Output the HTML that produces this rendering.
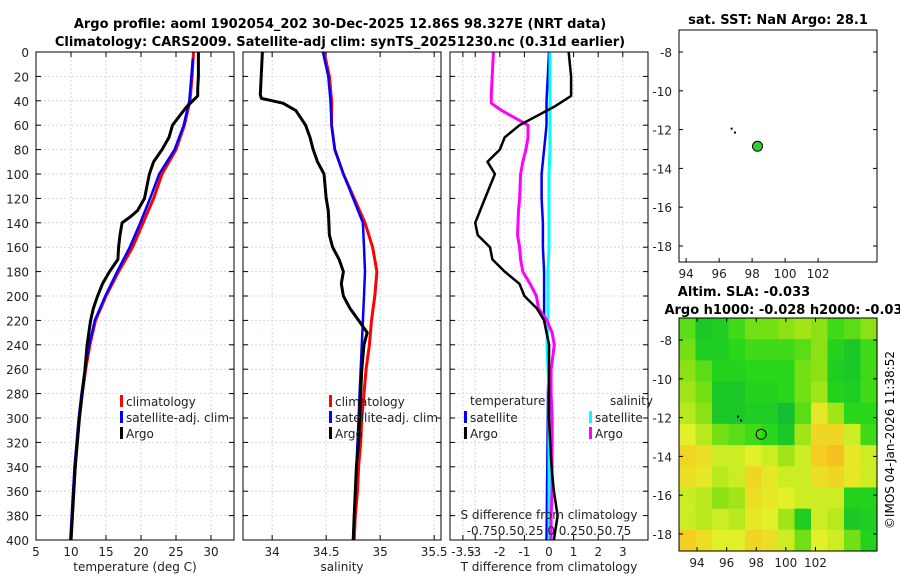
<!DOCTYPE html>
<html><head><meta charset="utf-8"><style>
html,body{margin:0;padding:0;background:#fff}
svg{display:block;font-family:"DejaVu Sans","Liberation Sans",sans-serif}
</style></head><body>
<svg id="c" width="900" height="580" viewBox="0 0 900 580">
<text x="340" y="28" font-size="13" font-weight="bold" text-anchor="middle">Argo profile: aoml 1902054_202 30-Dec-2025 12.86S 98.327E (NRT data)</text>
<text x="340" y="46" font-size="13" font-weight="bold" text-anchor="middle">Climatology: CARS2009. Satellite-adj clim: synTS_20251230.nc (0.31d earlier)</text>
<text x="778" y="24" font-size="13" font-weight="bold" text-anchor="middle">sat. SST: NaN Argo: 28.1</text>
<text x="744" y="296" font-size="13" font-weight="bold" text-anchor="middle">Altim. SLA: -0.033</text>
<text x="788" y="314" font-size="13" font-weight="bold" text-anchor="middle">Argo h1000: -0.028 h2000: -0.034</text>
<text transform="translate(894,440) rotate(-90)" font-size="12" text-anchor="middle">©IMOS 04-Jan-2026 11:38:52</text>
</svg>
<script>
// ---- data ----
const depths = [0,10,20,30,36,45,60,70,80,90,100,120,130,135,140,150,160,170,180,190,200,210,220,240,260,280,300,320,340,360,380,400];
const tempArgo = [28.2,28.2,28.2,28.1,28.1,26.5,24.5,24.0,23.0,21.8,21.2,20.5,19.5,18.5,17.3,17.0,16.8,16.7,15.5,14.5,13.8,13.2,12.8,12.3,12.0,11.6,11.2,10.9,10.6,10.4,10.2,10.0];
const climDepths = [0,20,40,60,80,100,120,140,160,180,200,220,240,260,280,300,320,340,360,380,400];
const tempClim = [27.5,27.3,27.0,26.2,25.0,23.0,21.8,20.3,18.8,16.8,15.0,13.5,12.7,12.1,11.6,11.2,10.9,10.6,10.4,10.2,10.0];
const tempSat = [27.4,27.2,26.9,26.1,24.8,22.6,21.3,19.9,18.4,16.6,14.9,13.4,12.6,12.0,11.5,11.1,10.8,10.5,10.3,10.1,9.9];
const salDepths = [0,35,38,42,48,60,70,80,90,100,120,130,150,160,170,180,190,200,210,220,230,240,260,280,300,320,340,360,380,400];
const salArgo = [33.91,33.89,33.9,34.1,34.22,34.31,34.35,34.38,34.42,34.48,34.5,34.52,34.53,34.56,34.62,34.66,34.64,34.66,34.72,34.8,34.88,34.85,34.83,34.82,34.81,34.8,34.78,34.77,34.76,34.75];
const salClim = [34.48,34.53,34.55,34.55,34.58,34.66,34.76,34.86,34.93,34.97,34.95,34.92,34.9,34.87,34.85,34.83,34.82,34.8,34.79,34.77,34.76];
const salSat = [34.47,34.52,34.54,34.55,34.58,34.66,34.75,34.84,34.85,34.86,34.85,34.84,34.83,34.82,34.81,34.8,34.79,34.78,34.77,34.76,34.75];
const tDiffArgo = [0.8,0.85,0.9,0.9,0.9,0.2,-1.2,-1.8,-2.0,-2.5,-2.2,-2.6,-2.8,-2.9,-3.0,-2.9,-2.4,-2.3,-1.8,-1.2,-1.0,-0.5,-0.2,0,0,0,0,0.05,0.1,0.2,0.35,0.2];
const tDiffSat = [0,-0.05,-0.1,-0.1,-0.2,-0.3,-0.3,-0.25,-0.25,-0.2,-0.2,-0.2,0,-0.02,-0.04,-0.05,-0.06,-0.07,-0.08,-0.09,-0.1];
const sDiffArgo = [-0.53,-0.55,-0.55,-0.55,-0.45,-0.2,-0.2,-0.22,-0.25,-0.27,-0.28,-0.29,-0.3,-0.28,-0.27,-0.25,-0.18,-0.12,-0.1,-0.02,0.03,0.05,0.02,0.02,0.03,0.03,0.03,0.03,0.02,0.02];
const sDiffSat = [0.01,0.01,0.01,0.01,0.01,0,0,0,0,-0.01,-0.01,-0.01,-0.02,-0.01,0,0,0,0,0,0,0];
const depthTicks = [0,20,40,60,80,100,120,140,160,180,200,220,240,260,280,300,320,340,360,380,400];
const tempTicks = [5,10,15,20,25,30];
const salTicks = [34,34.5,35,35.5];
const tDiffTicks = [-3.5,-3,-2,-1,0,1,2,3];
const sDiffLabel = "-0.750.50.25 0 0.250.50.75";
const lonTicks = [94,96,98,100,102];
const latTicks = [-8,-10,-12,-14,-16,-18];
const argoPos = [98.33,-12.86];
const trackLon = [96.7,96.9];
const trackLat = [-11.9,-12.1];
// SLA anomaly field (0 = strong negative/green, 1 = positive/orange), rows north->south
const slaGrid = [
[0.35,0.1,0.15,0.3,0.4,0.4,0.45,0.5,0.45,0.3,0.35,0.45],
[0.4,0.15,0.15,0.25,0.3,0.3,0.3,0.35,0.45,0.2,0.1,0.3],
[0.45,0.35,0.2,0.2,0.25,0.25,0.25,0.4,0.45,0.15,0.1,0.3],
[0.5,0.4,0.1,0.1,0.2,0.2,0.25,0.4,0.5,0.2,0.15,0.3],
[0.55,0.45,0.1,0.1,0.15,0.15,0.0,0.35,0.7,0.5,0.25,0.25],
[0.65,0.55,0.4,0.35,0.3,0.25,0.1,0.5,0.8,0.8,0.6,0.3],
[0.8,0.75,0.6,0.6,0.65,0.6,0.5,0.6,0.85,0.9,0.7,0.6],
[0.75,0.7,0.55,0.6,0.8,0.7,0.6,0.6,0.75,0.8,0.7,0.6],
[0.6,0.55,0.45,0.5,0.75,0.7,0.65,0.6,0.6,0.6,0.2,0.2],
[0.6,0.55,0.6,0.55,0.7,0.65,0.5,0.15,0.6,0.55,0.1,0.15],
[0.85,0.75,0.65,0.65,0.8,0.75,0.6,0.4,0.65,0.6,0.4,0.2]];

const NS="http://www.w3.org/2000/svg", svg=document.getElementById('c');
function mk(tag,attrs,parent){const e=document.createElementNS(NS,tag);for(const k in attrs)e.setAttribute(k,attrs[k]);(parent||svg).appendChild(e);return e;}
function txt(x,y,s,size,anchor,name){const t=mk('text',{x:x,y:y,'font-size':size,'text-anchor':anchor||'middle',fill:'#222'});t.textContent=s;


return t;}

const Y0=52,Y1=540;
const yD=d=>Y0+(d/400)*(Y1-Y0);
function panel(x0,x1,xs,xticks,fmt,xlabel,pname){
  const g=mk('g',{});
  
  
  mk('rect',{x:x0,y:Y0,width:x1-x0,height:Y1-Y0,fill:'#fff'},g);
  depthTicks.forEach(d=>{mk('line',{x1:x0,x2:x1,y1:yD(d),y2:yD(d),stroke:'#c8d0ee','stroke-dasharray':'2,2','stroke-width':0.8},g);
    mk('line',{x1:x0,x2:x0+5,y1:yD(d),y2:yD(d),stroke:'#000'},g);mk('line',{x1:x1-5,x2:x1,y1:yD(d),y2:yD(d),stroke:'#000'},g);});
  xticks.forEach(v=>{const x=xs(v);mk('line',{x1:x,x2:x,y1:Y0,y2:Y1,stroke:'#c8d0ee','stroke-dasharray':'2,2','stroke-width':0.8},g);
    mk('line',{x1:x,x2:x,y1:Y1-5,y2:Y1,stroke:'#000'},g);mk('line',{x1:x,x2:x,y1:Y0,y2:Y0+5,stroke:'#000'},g);
    txt(x,556,fmt(v),12,'middle','x-tick-label');});
  txt((x0+x1)/2,571,xlabel,12,'middle','x-axis-title');
  return g;
}
function line(g,xs,vals,ds,color,w,name){
  const p=vals.map((v,i)=>(i?'L':'M')+xs(v).toFixed(1)+','+yD(ds[i]).toFixed(1)).join('');
  const e=mk('path',{d:p,fill:'none',stroke:color,'stroke-width':w,'stroke-linejoin':'round'},g);
  
  
}
function frame(x0,x1){mk('rect',{x:x0,y:Y0,width:x1-x0,height:Y1-Y0,fill:'none',stroke:'#000','stroke-width':1});}
function legend(x,y,items){items.forEach((it,i)=>{mk('rect',{x:x,y:y+i*16-10,width:3,height:12,fill:it[1]});txt(x+6,y+i*16+1,it[0],12,'start','legend-entry');});}

// panel 1 temperature
const xT=v=>36+(v-5)*7;
let g=panel(36,234,xT,tempTicks,v=>v,'temperature (deg C)','temperature-panel');
depthTicks.forEach(d=>txt(29,yD(d)+5,d,12,'end','y-tick-label'));
line(g,xT,tempClim,climDepths,'#f00',3,'temp-climatology-line');
line(g,xT,tempSat,climDepths.map((d,i)=>i?d:5),'#00f',2.5,'temp-satellite-line');
line(g,xT,tempArgo,depths,'#000',3,'temp-argo-line');
frame(36,234);
legend(120,405,[['climatology','#f00'],['satellite-adj. clim','#00f'],['Argo','#000']]);

// panel 2 salinity
const xS=v=>243+(v-33.73)*108;
g=panel(243,441,xS,salTicks,v=>v,'salinity','salinity-panel');
line(g,xS,salClim,climDepths,'#f00',3,'sal-climatology-line');
line(g,xS,salSat,climDepths,'#00f',2.5,'sal-satellite-line');
line(g,xS,salArgo,salDepths,'#000',3,'sal-argo-line');
frame(243,441);
legend(329,405,[['climatology','#f00'],['satellite-adj. clim','#00f'],['Argo','#000']]);

// panel 3 differences
const xTD=v=>549+v*24.6, xSD=v=>549+v*105;
g=panel(450,648,xTD,tDiffTicks,v=>v,'T difference from climatology','difference-panel');
line(g,xTD,tDiffSat,climDepths,'#00f',2.5,'tdiff-satellite-line');
line(g,xSD,sDiffSat,climDepths,'#0ff',3,'sdiff-satellite-line');
line(g,xSD,sDiffArgo,salDepths,'#f0f',3,'sdiff-argo-line');
line(g,xTD,tDiffArgo,depths,'#000',2.5,'tdiff-argo-line');
frame(450,648);
txt(470,405,'temperature',12,'start','legend-title-temperature');
txt(610,405,'salinity',12,'start','legend-title-salinity');
legend(464,421,[['satellite','#00f'],['Argo','#000']]);
legend(589,421,[['satellite','#0ff'],['Argo','#f0f']]);
txt(549,519,'S difference from climatology',12,'middle','s-axis-title');
txt(549,535,sDiffLabel,12,'middle','s-axis-tick-labels');

// map 1 (SST)
const M1={x0:679,x1:877,y0:30,y1:262};
const mx1=v=>679+(v-93.57)*16.5, my1=v=>52+(-8-v)*19.4;
mk('rect',{x:M1.x0,y:M1.y0,width:198,height:232,fill:'#fff',stroke:'#000'});
lonTicks.forEach(v=>{mk('line',{x1:mx1(v),x2:mx1(v),y1:M1.y1-4,y2:M1.y1,stroke:'#000'});txt(mx1(v),278,v,12,'middle','map1-lon-tick');});
latTicks.forEach(v=>{mk('line',{x1:M1.x0,x2:M1.x0+4,y1:my1(v),y2:my1(v),stroke:'#000'});mk('line',{x1:M1.x1-4,x2:M1.x1,y1:my1(v),y2:my1(v),stroke:'#000'});txt(672,my1(v)+5,v,12,'end','map1-lat-tick');});
trackLon.forEach((v,i)=>mk('rect',{x:mx1(v),y:my1(trackLat[i]),width:2,height:2,fill:'#000'}));
let c=mk('circle',{cx:mx1(argoPos[0]),cy:my1(argoPos[1]),r:5,fill:'#3c3',stroke:'#000'});



// map 2 (SLA)
const M2={x0:679,x1:877,y0:318,y1:551};
const mx2=v=>679+(v-92.78)*14.8, my2=v=>340+(-8-v)*19.4;
const rows=slaGrid.length, cols=slaGrid[0].length, cw=198/cols, ch=233/rows;
const stops=[[0,[20,190,50]],[0.25,[40,215,25]],[0.45,[140,225,20]],[0.65,[225,240,40]],[0.85,[245,205,35]],[1,[245,170,30]]];
function slaColor(v){for(let k=1;k<stops.length;k++){if(v<=stops[k][0]){const a=stops[k-1],b=stops[k],t=(v-a[0])/(b[0]-a[0]);return 'rgb('+a[1].map((c,i)=>Math.round(c+(b[1][i]-c)*t)).join(',')+')';}}return 'rgb(245,170,30)';}
slaGrid.forEach((row,i)=>row.forEach((v,j)=>{const r=mk('rect',{x:M2.x0+j*cw,y:M2.y0+i*ch,width:cw+0.6,height:ch+0.6,fill:slaColor(v)});

}));
mk('rect',{x:M2.x0,y:M2.y0,width:198,height:233,fill:'none',stroke:'#000'});
lonTicks.forEach(v=>{mk('line',{x1:mx2(v),x2:mx2(v),y1:M2.y1-4,y2:M2.y1,stroke:'#000'});mk('line',{x1:mx2(v),x2:mx2(v),y1:M2.y0,y2:M2.y0+4,stroke:'#000'});txt(mx2(v),567,v,12,'middle','map2-lon-tick');});
latTicks.forEach(v=>{mk('line',{x1:M2.x0,x2:M2.x0+4,y1:my2(v),y2:my2(v),stroke:'#000'});mk('line',{x1:M2.x1-4,x2:M2.x1,y1:my2(v),y2:my2(v),stroke:'#000'});txt(672,my2(v)+5,v,12,'end','map2-lat-tick');});
trackLon.forEach((v,i)=>mk('rect',{x:mx2(v),y:my2(trackLat[i]),width:2,height:2,fill:'#000'}));
c=mk('circle',{cx:mx2(argoPos[0]),cy:my2(argoPos[1]),r:5,fill:'none',stroke:'#000'});


</script>
</body></html>
